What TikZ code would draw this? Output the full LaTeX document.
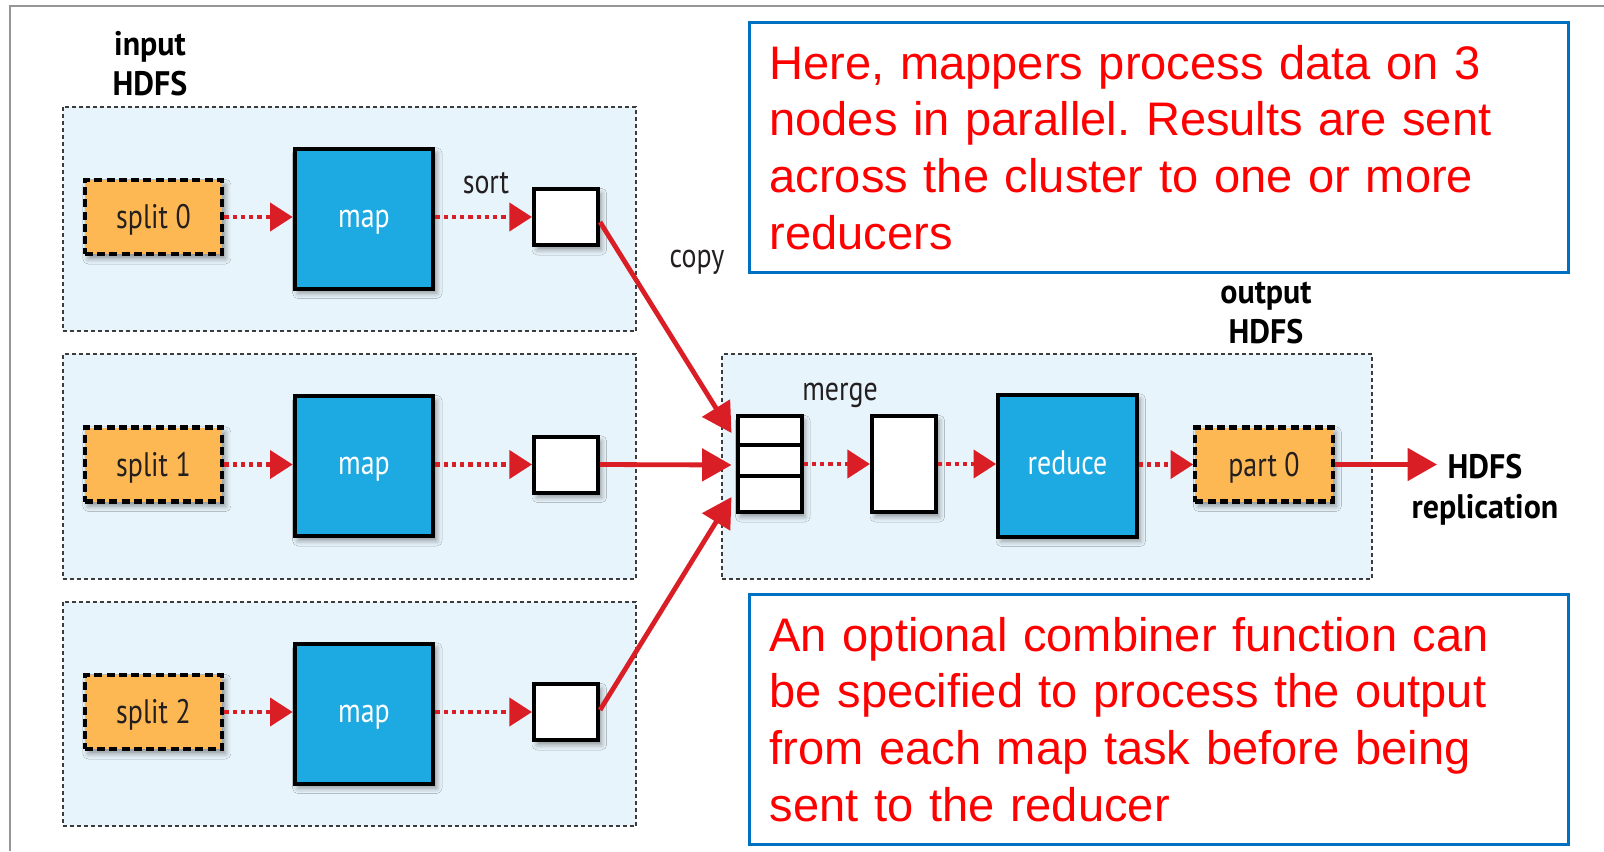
\documentclass[tikz,border=0pt]{standalone}
\usepackage{fontspec}
\usetikzlibrary{arrows.meta,shadows.blur,calc}
\newfontfamily\labfont[FakeStretch=0.82]{PT Sans}
\newfontfamily\labboldfont[FakeStretch=0.94,BoldFont={PT Sans Bold}]{PT Sans}
\newfontfamily\notefont{Liberation Sans}
\definecolor{mapfill}{RGB}{29,169,225}
\definecolor{splitfill}{RGB}{253,184,84}
\definecolor{grpfill}{RGB}{232,244,251}
\definecolor{grpline}{RGB}{60,60,60}
\definecolor{arrred}{RGB}{218,30,38}
\definecolor{notered}{RGB}{255,0,0}
\definecolor{noteblue}{RGB}{0,112,192}
\definecolor{labtext}{RGB}{35,31,32}
\definecolor{framegray}{RGB}{150,150,150}
\frenchspacing
\begin{document}
\begin{tikzpicture}[x=0.75pt,y=-0.75pt,
  shad/.style={blur shadow={shadow xshift=2.5pt,shadow yshift=-3.5pt,shadow blur radius=4pt,shadow opacity=40}},
  grp/.style={draw=grpline,fill=grpfill,line width=1.4pt,dash pattern=on 3pt off 2.25pt,minimum width=430pt,minimum height=168.5pt,inner sep=0pt},
  splitbox/.style={draw=black,fill=splitfill,line width=3.2pt,dash pattern=on 6pt off 3.2pt,minimum width=103pt,minimum height=55.5pt,inner sep=0pt,font=\labfont\fontsize{25.5}{30}\selectfont,text=labtext,text height=17.8pt,text depth=0pt,shad},
  mapbox/.style={draw=black,fill=mapfill,line width=3pt,minimum width=104pt,minimum height=105pt,inner sep=0pt,font=\labfont\fontsize{25.5}{30}\selectfont,text=white,text height=12.8pt,text depth=0pt,shad},
  smallbox/.style={draw=black,fill=white,line width=3pt,minimum width=48pt,minimum height=42pt,inner sep=0pt,shad},
  tallbox/.style={draw=black,fill=white,line width=3pt,minimum width=48pt,minimum height=72pt,inner sep=0pt,shad},
  lbl/.style={font=\labfont\fontsize{25.5}{30}\selectfont,text=labtext,inner sep=0pt},
  blbl/.style={font=\labboldfont\bfseries\fontsize{25.5}{30}\selectfont,text=black,inner sep=0pt,align=center},
  dotarrow/.style={draw=arrred,line width=3.2pt,dash pattern=on 3.2pt off 3pt,-{Triangle[length=17pt,width=21pt]}},
  copyarrow/.style={draw=arrred,line width=3.6pt,-{Triangle[length=22pt,width=24pt]}},
  note/.style={draw=noteblue,line width=2.2pt,minimum width=614pt,minimum height=187.5pt,text width=584pt,inner xsep=15pt,align=left,text=notered,font=\notefont\fontsize{35.3}{42.5}\selectfont,anchor=north west}
]
\useasboundingbox (0,0) rectangle (1604,851);
\draw[framegray,line width=1.5pt] (10,851) -- (10,6) -- (1604,6);

% input groups
\node[grp] (grp0) at (349.5,219) {};
\node[grp] (grp1) at (349.5,466.5) {};
\node[grp] (grp2) at (349.5,714) {};
\node[grp,minimum width=487.5pt] (grpr) at (1047,466.5) {};

\foreach \i/\y in {0/217,1/464.5,2/712}{
  \node[splitbox] (split\i) at (153.5,\y) {split \i};
  \node[mapbox] (map\i) at (364,\y+1.5) {map};
  \node[smallbox] (sb\i) at (566,\y) {};
  \draw[dotarrow] (split\i.east) -- (split\i.east -| map\i.west);
  \draw[dotarrow] (map\i.east |- sb\i.west) -- (sb\i.west);
}

% reduce side
\node[tallbox] (stack) at (769.5,464) {};
\draw[line width=3pt] ($(stack.north west)!0.31!(stack.south west)$) -- ($(stack.north east)!0.31!(stack.south east)$);
\draw[line width=3pt] ($(stack.north west)!0.62!(stack.south west)$) -- ($(stack.north east)!0.62!(stack.south east)$);
\node[tallbox] (mbox) at (904,464) {};
\node[mapbox,minimum height=106.5pt] (reduce) at (1067.5,465.5) {reduce};
\node[splitbox] (part0) at (1264,464.5) {part 0};
\coordinate (hdfsend) at (1437,464.5);

\draw[dotarrow] (stack.east |- mbox.west) -- (mbox.west);
\draw[dotarrow] (mbox.east) -- (mbox.east -| reduce.west);
\draw[dotarrow] (reduce.east |- part0.west) -- (part0.west);
\draw[copyarrow] (part0.east) -- (hdfsend);

\draw[copyarrow] ($(sb0.east)+(0,5)$) -- ($(stack.west)+(-4,-31)$);
\draw[copyarrow] (sb1.east) -- ($(stack.west)+(-4,1)$);
\draw[copyarrow] ($(sb2.east)+(0,-2)$) -- ($(stack.west)+(-4,33)$);

% labels (base = baseline of last line)
\node[blbl,anchor=base] (inlbl) at (150,95) {input\\HDFS};
\node[blbl,anchor=base] (outlbl) at (1266,343) {output\\HDFS};
\node[blbl,anchor=base] (hdfsrep) at (1485,518) {HDFS\\replication};
\node[lbl,anchor=base] (sortlbl) at (486,193) {sort};
\node[lbl,anchor=base] (copylbl) at (697,267) {copy};
\node[lbl,anchor=base] (mergelbl) at (840,400) {merge};

% notes
\node[note] (note1) at (748,21) {Here, mappers process data on 3\\nodes in parallel. Results are sent\\across the cluster to one or more\\reducers};
\node[note] (note2) at (748,593) {An optional combiner function can\\be specified to process the output\\from each map task before being\\sent to the reducer};
\end{tikzpicture}
\end{document}
